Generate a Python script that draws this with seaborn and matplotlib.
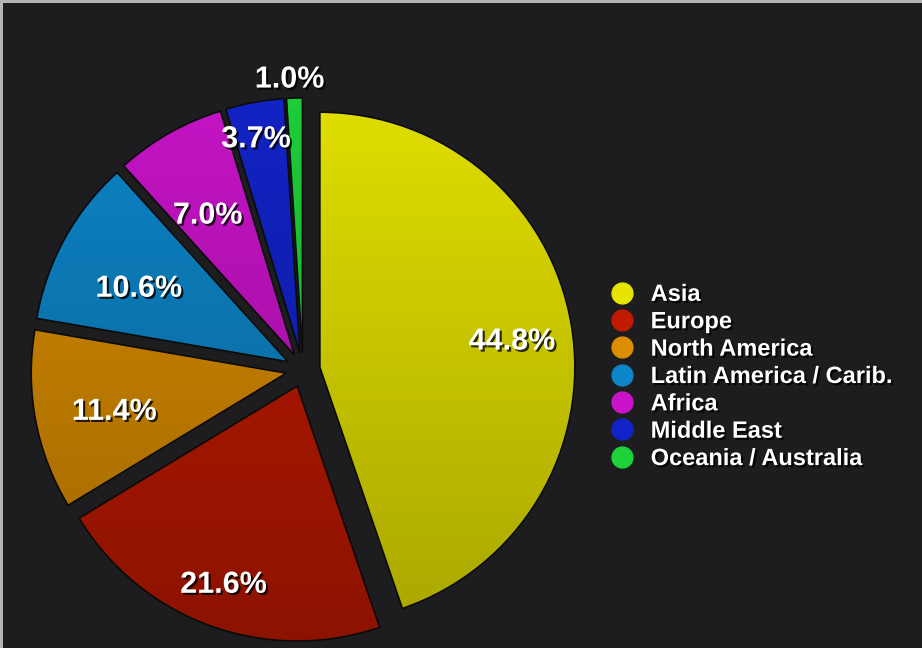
"""
World internet users by region - exploded pie on a dark background
"""

import numpy as np
import matplotlib
matplotlib.use('Agg')
import matplotlib.pyplot as plt
import matplotlib.patheffects as pe
import matplotlib.transforms as mtransforms
from matplotlib.lines import Line2D
import seaborn as sns

# data
regions = ['Asia', 'Europe', 'North America', 'Latin America / Carib.',
           'Africa', 'Middle East', 'Oceania / Australia']
shares = [44.8, 21.6, 11.4, 10.6, 7.0, 3.7, 1.0]
colors = ['#e6e400', '#c01a00', '#db8e00', '#0d86c9', '#c914c9', '#1224c9', '#1ed23a']

# radial position of each percentage label (fraction of radius)
label_dist = [0.78, 0.80, 0.67, 0.65, 0.66, 0.88, 1.10]

sns.set_theme(style='dark')
plt.rcParams['font.family'] = ['Liberation Sans', 'DejaVu Sans']

BG = '#1d1d1f'
W, H = 922, 648
PX = 255            # pie radius in pixels
CX, CY = 303, 370   # pie centre in pixels (from top-left)

fig = plt.figure(figsize=(W / 100, H / 100), dpi=100, facecolor=BG)
ax = fig.add_axes([0, 0, 1, 1])
ax.set_facecolor(BG)

wedges, _ = ax.pie(shares, colors=colors, startangle=90, counterclock=False,
                   explode=[0.067] * len(shares), radius=1,
                   wedgeprops=dict(edgecolor='#0c0c0c', linewidth=1.2))

# darker towards the bottom, like the original glossy slices
grad = np.linspace(0, 1, 256).reshape(-1, 1)
shade = np.zeros((256, 1, 4))
shade[..., 3] = grad * 0.3
for w in wedges:
    im = ax.imshow(shade, extent=(-1.3, 1.3, -1.3, 1.3), origin='upper',
                   aspect='auto', zorder=w.get_zorder() + 0.1)
    im.set_clip_path(w)

# percentage labels (nudged a few pixels left/down)
shadow = [pe.withSimplePatchShadow(offset=(1.5, -1.5), shadow_rgbFace='black', alpha=0.8)]
nudge = mtransforms.offset_copy(ax.transData, fig=fig, x=-4, y=-7, units='dots')
for w, pct, d in zip(wedges, shares, label_dist):
    ang = np.deg2rad((w.theta1 + w.theta2) / 2)
    x0, y0 = w.center
    ax.text(x0 + d * np.cos(ang), y0 + d * np.sin(ang), f'{pct:.1f}%',
            ha='center', va='center', color='white', fontsize=22,
            fontweight='bold', zorder=10, path_effects=shadow, transform=nudge)

ax.set_xlim(-CX / PX, (W - CX) / PX)
ax.set_ylim(-(H - CY) / PX, CY / PX)
ax.set_aspect('auto')
ax.axis('off')

# legend with round markers
handles = [Line2D([], [], marker='o', linestyle='', markersize=15,
                  markerfacecolor=c, markeredgecolor=c) for c in colors]
leg = ax.legend(handles, regions, loc='center left', bbox_to_anchor=(0.655, 0.419),
                bbox_transform=fig.transFigure, frameon=False,
                prop=dict(weight='bold', size=17), labelcolor='white',
                handlelength=1.5, handletextpad=0.48, labelspacing=0.185,
                borderpad=0, borderaxespad=0)
for t in leg.get_texts():
    t.set_path_effects(shadow)

# light frame edge at top and left
fig.add_artist(plt.Rectangle((0, 1 - 3 / H), 1, 3 / H, transform=fig.transFigure,
                             color='#b4b4b4', lw=0))
fig.add_artist(plt.Rectangle((0, 0), 3 / W, 1, transform=fig.transFigure,
                             color='#b4b4b4', lw=0))

fig.savefig('out.png', dpi=100, facecolor=BG)
